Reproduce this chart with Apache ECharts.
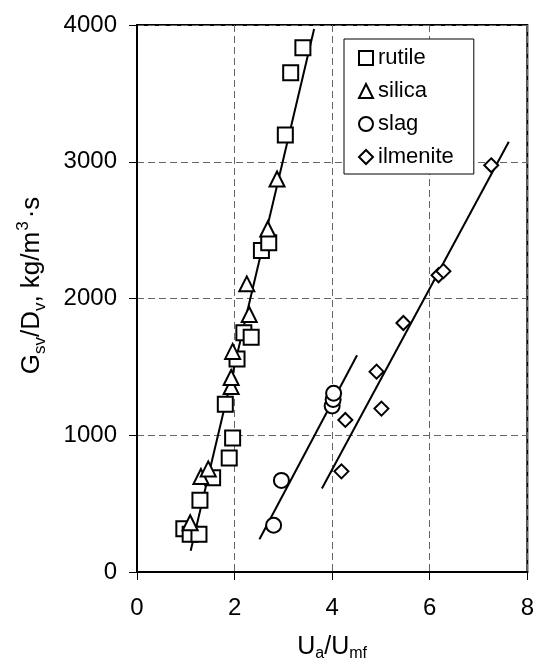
<!DOCTYPE html>
<html>
<head>
<meta charset="utf-8">
<script src="https://cdn.jsdelivr.net/npm/echarts@6/dist/echarts.min.js"></script>
<style>
    html, body {margin: 0; padding: 0; background: #fff;}
    #chart {width: 537px; height: 667px;}
</style>
</head>
<body>
<div id="chart"></div>
<script>
// 数据点 [Ua/Umf, Gsv/Dv]
var rutile = [[0.96, 317], [1.09, 276], [1.27, 276], [1.29, 524], [1.55, 689], [1.81, 1226], [1.89, 834],
    [1.96, 980], [2.05, 1558], [2.19, 1749], [2.34, 1716], [2.55, 2351], [2.70, 2408], [3.04, 3196],
    [3.15, 3650], [3.40, 3834]];
var silica = [[1.09, 360], [1.31, 698], [1.46, 754], [1.93, 1357], [1.93, 1422], [1.96, 1613],
    [2.25, 2107], [2.30, 1883], [2.68, 2508], [2.87, 2874]];
var slag = [[2.80, 342], [2.96, 670], [4.00, 1214], [4.02, 1262], [4.03, 1307]];
var ilmenite = [[4.19, 736], [4.27, 1112], [4.91, 1465], [5.01, 1195], [5.46, 1821], [6.18, 2170],
    [6.28, 2200], [7.26, 2974]];

// 拟合直线的两个端点
var fitRutile = [[1.10, 156], [3.63, 3970]];
var fitSlag = [[2.51, 240], [4.51, 1585]];
var fitIlmenite = [[3.79, 610], [7.62, 3146]];

var xTicks = [0, 2, 4, 6, 8];
var yTicks = [0, 1000, 2000, 3000, 4000];

var font = 'Liberation Sans, Arial, sans-serif';

function scatter(name, symbol, size, data) {
    return {
        name: name,
        type: 'scatter',
        symbol: symbol,
        symbolSize: size,
        z: 3,
        itemStyle: {color: '#fff', borderColor: '#000', borderWidth: 2, opacity: 1},
        data: data
    };
}

function fitLine(data) {
    return {
        type: 'line',
        symbol: 'none',
        z: 2,
        lineStyle: {color: '#000', width: 2},
        data: data
    };
}

var myChart = echarts.init(document.getElementById('chart'));    //初始化echarts图表
var option = {
    animation: false,
    textStyle: {fontFamily: font, color: '#000'},
    grid: {
        left: 137,
        right: 7,
        top: 25,
        bottom: 83,
        show: true,
        borderColor: '#000',
        borderWidth: 2
    },
    legend: {
        orient: 'vertical',
        left: 344,
        top: 39,
        padding: [8, 20, 6, 14],
        backgroundColor: '#fff',
        borderColor: '#000',
        borderWidth: 1,
        borderRadius: 0,
        itemGap: 11,
        itemWidth: 14,
        itemHeight: 14,
        textStyle: {fontSize: 22, lineHeight: 22, color: '#000', fontFamily: font},
        data: ['rutile', 'silica', 'slag', 'ilmenite']
    },
    xAxis: {
        type: 'value',
        min: xTicks[0],
        max: xTicks[xTicks.length - 1],
        interval: 2,
        name: '{a|U}{s|a}{a|/U}{s|mf}',
        nameLocation: 'middle',
        nameGap: 63,
        nameTextStyle: {
            rich: {
                a: {fontSize: 25, lineHeight: 25, verticalAlign: 'top', fontFamily: font, color: '#000'},
                s: {fontSize: 16, lineHeight: 16, padding: [13, 0, 0, 0], fontFamily: font, color: '#000'}
            }
        },
        axisLine: {lineStyle: {color: '#000', width: 2}},
        axisTick: {length: 8, lineStyle: {color: '#000', width: 1}},
        axisLabel: {fontSize: 24, margin: 24, color: '#000'},
        splitLine: {lineStyle: {color: '#666', width: 1, type: [7, 4]}}
    },
    yAxis: {
        type: 'value',
        min: yTicks[0],
        max: yTicks[yTicks.length - 1],
        interval: 1000,
        name: '{a|G}{b|sv}{a|/D}{b|v}{a|, kg/m}{c|3}{a|·s}',
        nameLocation: 'middle',
        nameRotate: 90,
        nameGap: 96,
        nameTextStyle: {
            padding: [0, 0, 0, 26],
            rich: {
                a: {fontSize: 26, lineHeight: 26, padding: [4, 0, 0, 0], verticalAlign: 'top', fontFamily: font, color: '#000'},
                b: {fontSize: 17, lineHeight: 17, padding: [17, 0, 0, 0], verticalAlign: 'top', fontFamily: font, color: '#000'},
                c: {fontSize: 17, lineHeight: 17, padding: [0, 3, 0, 1], verticalAlign: 'top', fontFamily: font, color: '#000'}
            }
        },
        axisLine: {lineStyle: {color: '#000', width: 2}},
        axisTick: {length: 8, lineStyle: {color: '#000', width: 1}},
        axisLabel: {
            fontSize: 24,
            margin: 20,
            color: '#000',
            formatter: function (v) {
                return String(v);
            }
        },
        splitLine: {lineStyle: {color: '#666', width: 1, type: [7, 4]}}
    },
    series: [
        fitLine(fitRutile),
        fitLine(fitSlag),
        fitLine(fitIlmenite),
        scatter('rutile', 'rect', 15, rutile),
        scatter('silica', 'triangle', 15, silica),
        scatter('slag', 'circle', 15, slag),
        scatter('ilmenite', 'diamond', 14, ilmenite)
    ]
};
myChart.setOption(option);   //为echarts对象加载数据
</script>
</body>
</html>
